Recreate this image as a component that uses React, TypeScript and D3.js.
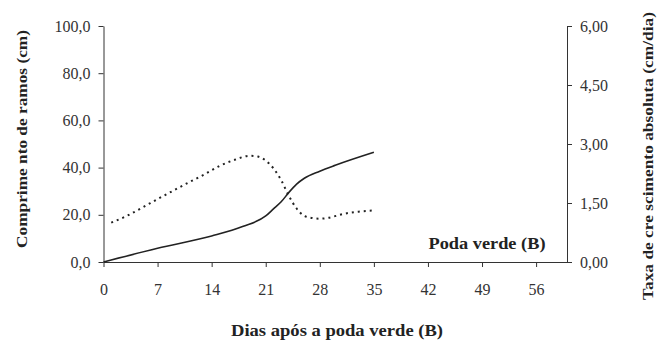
import React, { useRef, useEffect } from 'react';
import * as d3 from 'd3';

// solid line: shoot length (cm), left axis
const lengthDays = [0, 7, 14, 18, 21, 22, 23, 24, 25, 26, 28, 30, 35];
const lengthValues = [0, 5.8, 11, 15, 19.5, 22.5, 25.5, 29.5, 33, 35.5, 38.5, 41, 46.5];

// dotted line: absolute growth rate (cm/dia), right axis
const rateDays = [1, 3, 5, 7, 9, 11, 13, 15, 17, 19, 20, 21, 22, 23, 24, 25, 26, 27, 28, 29, 31, 33, 35];
const rateValues = [1.0, 1.17, 1.38, 1.6, 1.81, 2.02, 2.22, 2.44, 2.6, 2.7, 2.68, 2.58, 2.38, 2.08, 1.68, 1.36, 1.17, 1.12, 1.1, 1.12, 1.22, 1.28, 1.31];

const xTicks = [0, 7, 14, 21, 28, 35, 42, 49, 56];
const leftTicks = [0, 20, 40, 60, 80, 100];
const rightTicks = [0, 1.5, 3, 4.5, 6];

export default function App() {
    const svgRef = useRef<SVGSVGElement>(null);
    const width = 659;
    const height = 346;
    const margin = { top: 26, right: 92, bottom: 84, left: 103.5 };

    useEffect(() => {
        const svg = d3.select(svgRef.current);
        svg.selectAll('*').remove();

        const axisColor = '#333';
        const font = "'Liberation Serif', 'DejaVu Serif', serif";

        const x = d3.scaleLinear().domain([0, 60]).range([margin.left, width - margin.right]);
        const yL = d3.scaleLinear().domain([0, 100]).range([height - margin.bottom, margin.top]);
        const yR = d3.scaleLinear().domain([0, 6]).range([height - margin.bottom, margin.top]);

        const fmtComma = (digits: number) => (d: number) => d.toFixed(digits).replace('.', ',');

        const styleTicks = (g: any) => g.selectAll('.tick text')
            .attr('font-size', 16)
            .style('font-family', font)
            .attr('fill', '#333');

        // x axis
        svg.append('g')
            .attr('transform', `translate(0,${height - margin.bottom})`)
            .attr('color', axisColor)
            .call(d3.axisBottom(x).tickValues(xTicks).tickFormat(d => `${d}`).tickSize(5).tickSizeOuter(0).tickPadding(17))
            .call(styleTicks);

        // left axis
        svg.append('g')
            .attr('transform', `translate(${margin.left},0)`)
            .attr('color', axisColor)
            .call(d3.axisLeft(yL).tickValues(leftTicks).tickFormat(fmtComma(1)).tickSize(5).tickSizeOuter(0).tickPadding(8))
            .call(styleTicks);

        // right axis
        svg.append('g')
            .attr('transform', `translate(${width - margin.right},0)`)
            .attr('color', axisColor)
            .call(d3.axisRight(yR).tickValues(rightTicks).tickFormat(fmtComma(2)).tickSize(5).tickSizeOuter(0).tickPadding(8))
            .call(styleTicks);

        // series
        const lengthSeries = lengthDays.map((d, i) => ({ day: d, value: lengthValues[i] }));
        const rateSeries = rateDays.map((d, i) => ({ day: d, value: rateValues[i] }));

        svg.append('path')
            .datum(lengthSeries)
            .attr('fill', 'none')
            .attr('stroke', '#222')
            .attr('stroke-width', 1.6)
            .attr('d', d3.line<any>().x(d => x(d.day)).y(d => yL(d.value)).curve(d3.curveMonotoneX));

        svg.append('path')
            .datum(rateSeries)
            .attr('fill', 'none')
            .attr('stroke', '#222')
            .attr('stroke-width', 2)
            .attr('stroke-dasharray', '2,4')
            .attr('d', d3.line<any>().x(d => x(d.day)).y(d => yR(d.value)).curve(d3.curveMonotoneX));

        const label = (txt: string, transform: string, size: number, len: number) =>
            svg.append('text')
                .attr('transform', transform)
                .attr('dy', '0.35em')
                .attr('text-anchor', 'middle')
                .attr('font-size', size)
                .attr('font-weight', 'bold')
                .style('font-family', font)
                .attr('fill', '#222')
                .attr('textLength', len)
                .attr('lengthAdjust', 'spacingAndGlyphs')
                .text(txt);

        // legend text
        label('Poda verde (B)', 'translate(487,243)', 17, 117);

        // axis titles
        label('Dias após a poda verde (B)', 'translate(337,330)', 16, 212);
        label('Comprime nto de ramos (cm)', 'translate(22,139) rotate(-90)', 15, 218);
        label('Taxa de cre scimento absoluta (cm/dia)', 'translate(648,156) rotate(-90)', 15, 288);
    }, []);

    return (
        <svg ref={svgRef} width={width} height={height}
            style={{ position: 'absolute', left: 0, top: 0, background: '#fff' }} />
    );
}
